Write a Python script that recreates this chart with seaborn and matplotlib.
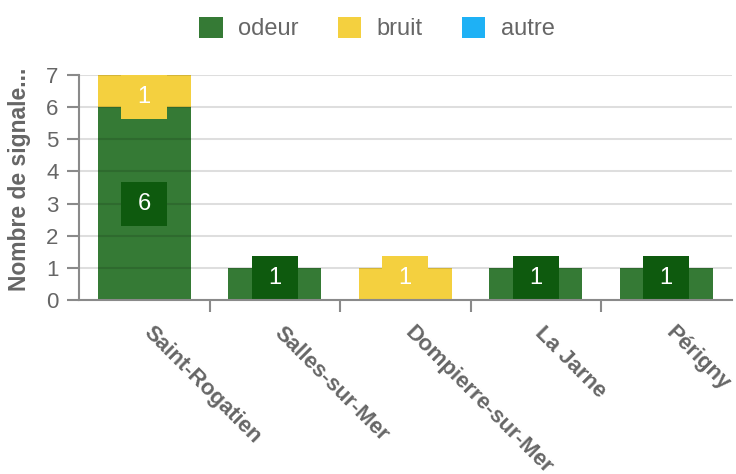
import matplotlib
matplotlib.use("Agg")
import matplotlib.pyplot as plt
import matplotlib.transforms as mtrans
import seaborn as sns
import pandas as pd
from matplotlib.patches import Rectangle, Patch

communes = ["Saint-Rogatien", "Salles-sur-Mer", "Dompierre-sur-Mer", "La Jarne", "Périgny"]
odeur = [6, 1, 0, 1, 1]
bruit = [1, 0, 1, 0, 0]
autre = [0, 0, 0, 0, 0]
series_names = ["odeur", "bruit", "autre"]
y_label = "Nombre de signale..."

c_odeur = "#357a35"
c_odeur_lbl = "#0e5a0e"
c_bruit = "#f4d03f"
c_autre = "#1eb1f5"
grey = "#666666"
axis_grey = "#8a8a8a"

sns.set_theme(style="white")
plt.rcParams["font.family"] = ["Liberation Sans", "DejaVu Sans"]

df = pd.DataFrame({"commune": communes, "odeur": odeur, "bruit": bruit, "autre": autre})
df["t_bruit"] = df["odeur"] + df["bruit"]
df["t_autre"] = df["t_bruit"] + df["autre"]

fig = plt.figure(figsize=(7.36, 4.74), dpi=100)
ax = fig.add_axes([79/736, 1-300/474, (731.5-79)/736, (300-75)/474])

bw = 0.71
for col, c in [("t_autre", c_autre), ("t_bruit", c_bruit), ("odeur", c_odeur)]:
    sns.barplot(data=df, x="commune", y=col, color=c, saturation=1, width=bw,
                ax=ax, zorder=2, linewidth=0, edgecolor="none")

ymax = 7
ax.set_xlim(-0.5, len(communes) - 0.5)
ax.set_ylim(0, ymax)

# grid lines (drawn as faint overlay like the reference)
ax.set_yticks(range(0, ymax + 1))
ax.yaxis.grid(True, color="black", alpha=0.13, linewidth=1.5, zorder=2.5)
ax.set_axisbelow(False)
for gl in ax.get_ygridlines():
    gl.set_zorder(2.5)

# data labels
box_w = 0.355
box_h = 44 / ((300 - 75) / ymax)
for i in range(len(communes)):
    for vals, base, col in [(odeur, 0, c_odeur_lbl), (bruit, odeur[i], c_bruit)]:
        v = vals[i]
        if v <= 0:
            continue
        cy = base + v / 2
        lo, hi = cy - box_h / 2, cy + box_h / 2
        if lo < 0:
            cy -= lo
        if hi > ymax:
            cy -= hi - ymax
        ax.add_patch(Rectangle((i - box_w / 2, cy - box_h / 2), box_w, box_h,
                               facecolor=col, edgecolor="none", zorder=3))
        ax.text(i, cy, str(v), color="white", ha="center", va="center",
                fontsize=17, zorder=4)

for s in ["top", "right"]:
    ax.spines[s].set_visible(False)
for s in ["left", "bottom"]:
    ax.spines[s].set_color(axis_grey)
    ax.spines[s].set_linewidth(1.5)
    ax.spines[s].set_zorder(5)
ax.tick_params(axis="y", length=8.6, width=1.5, color=axis_grey, labelsize=16,
               labelcolor=grey, pad=6, left=True)

ax.set_xticks(range(len(communes)))
ax.set_xticklabels(communes, rotation=-45, ha="left", va="top",
                   rotation_mode="anchor", fontsize=16, fontweight="bold", color=grey)
ax.tick_params(axis="x", length=0, pad=16)
offset = mtrans.ScaledTranslation(10 / 100, 0, fig.dpi_scale_trans)
for lbl in ax.get_xticklabels():
    lbl.set_transform(lbl.get_transform() + offset)
ax.set_xticks([i + 0.5 for i in range(len(communes) - 1)], minor=True)
ax.tick_params(axis="x", which="minor", length=8.6, width=1.5, color=axis_grey, bottom=True)

ax.set_xlabel("")
ax.set_ylabel(y_label, fontsize=16.5, fontweight="bold", color=grey)
ax.yaxis.set_label_coords((31 - 79) / 652.5, (300 - 179) / 225)

handles = [Patch(facecolor=c, edgecolor="none") for c in [c_odeur, c_bruit, c_autre]]
fig.legend(handles, series_names, loc="upper center", bbox_to_anchor=(0.512, 1.01),
           ncol=3, frameon=False, fontsize=17, labelcolor=grey,
           handlelength=1.0, handleheight=1.0, handletextpad=0.65, columnspacing=1.65)

fig.savefig("out.png", dpi=100)
